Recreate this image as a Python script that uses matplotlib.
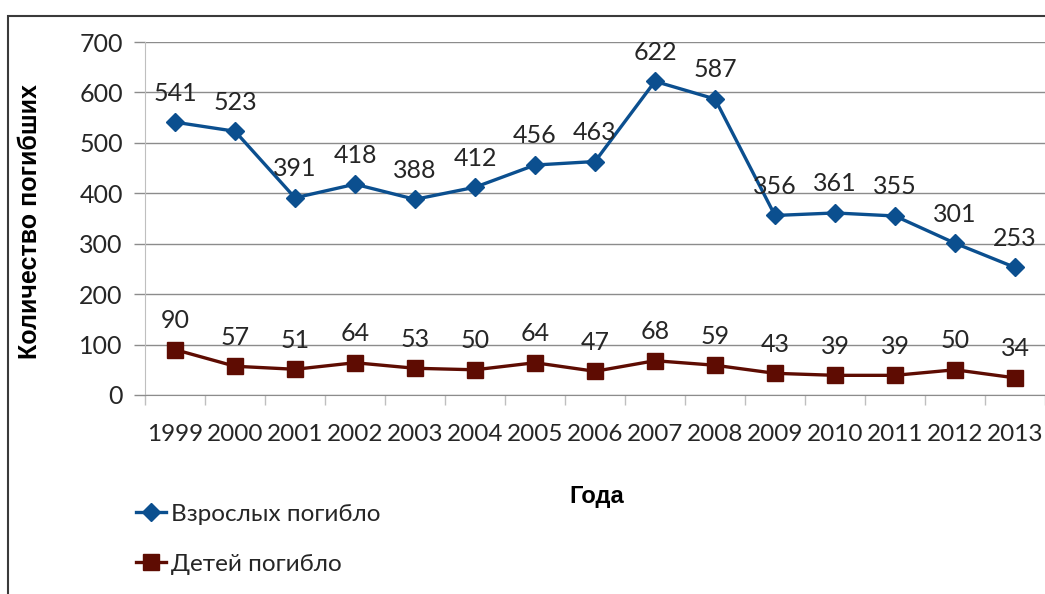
import matplotlib
matplotlib.use("Agg")
import matplotlib.pyplot as plt
from matplotlib.patches import Rectangle

years = ["1999", "2000", "2001", "2002", "2003", "2004", "2005", "2006",
         "2007", "2008", "2009", "2010", "2011", "2012", "2013"]
adults = [541, 523, 391, 418, 388, 412, 456, 463, 622, 587, 356, 361, 355, 301, 253]
children = [90, 57, 51, 64, 53, 50, 64, 47, 68, 59, 43, 39, 39, 50, 34]
yticks = [0, 100, 200, 300, 400, 500, 600, 700]

BLUE = "#0b4f8f"
RED = "#5e0c02"
GRID = "#8c8c8c"
TEXT = "#262626"

plt.rcParams["font.family"] = ["Lato", "DejaVu Sans"]

fig = plt.figure(figsize=(10.45, 5.94), dpi=100)
ax = fig.add_axes([145 / 1045, 1 - 395 / 594, 900 / 1045, 353 / 594])

x = list(range(len(years)))
ax.plot(x, adults, color=BLUE, lw=2.4, marker="D", markersize=9,
        label="Взрослых погибло", zorder=3, clip_on=False)
ax.plot(x, children, color=RED, lw=2.4, marker="s", markersize=11,
        label="Детей погибло", zorder=3, clip_on=False)

for xi, v in zip(x, adults):
    ax.annotate(str(v), (xi, v), xytext=(0, 21), textcoords="offset points",
                ha="center", va="center", fontsize=18, color=TEXT)
for xi, v in zip(x, children):
    ax.annotate(str(v), (xi, v), xytext=(0, 21), textcoords="offset points",
                ha="center", va="center", fontsize=18, color=TEXT)

ax.set_xlim(-0.5, len(years) - 0.5)
ax.set_ylim(0, 700)
ax.set_yticks(yticks)
ax.set_yticklabels([str(t) for t in yticks], fontsize=18, color=TEXT)
ax.set_xticks(x)
ax.set_xticklabels(years, fontsize=17.5, color=TEXT)
ax.set_xticks([i - 0.5 for i in range(len(years) + 1)], minor=True)
ax.tick_params(axis="x", which="major", length=0, pad=21)
ax.tick_params(axis="x", which="minor", length=7, color="#bfbfbf", width=1)
ax.tick_params(axis="y", length=8, color=GRID, width=1, pad=8)
ax.grid(True, axis="y", color=GRID, linewidth=1)
ax.set_axisbelow(True)
for s in ["top", "right"]:
    ax.spines[s].set_visible(False)
ax.spines["left"].set_color("#bfbfbf")
ax.spines["bottom"].set_color(GRID)

ax.set_ylabel("Количество погибших", fontsize=18, fontweight="bold",
              family="Liberation Sans")
ax.yaxis.set_label_coords(-103 / 900, 0.49)
fig.text(597 / 1045, 1 - 497 / 594, "Года", fontsize=17, fontweight="bold",
         family="Liberation Sans", ha="center", va="center")

fig.legend(loc="upper left", bbox_to_anchor=(126 / 1045, 1 - 494 / 594),
           frameon=False, fontsize=17.5, labelspacing=1.2, handlelength=1.25,
           handletextpad=0.2, borderaxespad=0, labelcolor=TEXT)

# chart frame (only top and left edges visible in the crop)
fig.patches.append(Rectangle((8 / 1045, -0.1), 1.2, 1 - 16 / 594 + 0.1,
                             transform=fig.transFigure, fill=False,
                             edgecolor="#3a3a3a", linewidth=1.5))

fig.savefig("out.png", dpi=100, facecolor="white")
